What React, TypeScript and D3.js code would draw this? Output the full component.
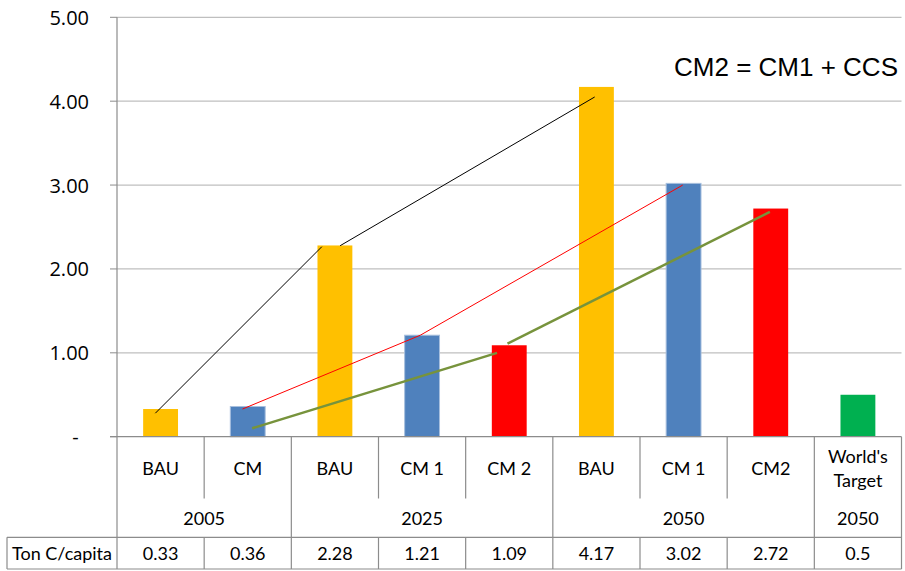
import React from "react";
import * as d3 from "d3";

// ---------- data ----------
const categories: string[][] = [
  ["BAU"], ["CM"], ["BAU"], ["CM 1"], ["CM 2"], ["BAU"], ["CM 1"], ["CM2"], ["World's", "Target"],
];
const values: number[] = [0.33, 0.36, 2.28, 1.21, 1.09, 4.17, 3.02, 2.72, 0.5];
const valueLabels: string[] = ["0.33", "0.36", "2.28", "1.21", "1.09", "4.17", "3.02", "2.72", "0.5"];
const groupLabels: string[] = ["2005", "2025", "2050", "2050"];
const groupSpans: number[] = [2, 3, 3, 1];
const rowTitle = "Ton C/capita";
const yTicks: number[] = [0, 1, 2, 3, 4, 5];
const yTickLabels: string[] = ["-\u00A0\u00A0", "1.00", "2.00", "3.00", "4.00", "5.00"];
const annotation = "CM2 = CM1 + CCS";

// trend segments: [category position, value]
const blackSegments: [number, number][][] = [
  [[-0.06, 0.28], [1.85, 2.265]],
  [[2.06, 2.277], [4.98, 4.05]],
];
const redSegments: [number, number][][] = [
  [[0.94, 0.33], [2.98, 1.21], [5.99, 3.0]],
];
const greenSegments: [number, number][][] = [
  [[1.05, 0.1], [3.86, 1.0]],
  [[3.98, 1.11], [6.99, 2.68]],
];

// ---------- styles ----------
const barColors = ["#FFC000", "#4F81BD", "#FFC000", "#4F81BD", "#FF0000", "#FFC000", "#4F81BD", "#FF0000", "#00B050"];
const barStrokes = ["none", "#A7BFDE", "none", "#A7BFDE", "none", "none", "#A7BFDE", "none", "none"];

export default function App() {
  const W = 905, H = 571;
  const left = 117, right = 901.5, top = 17.3, bottom = 436.7;
  const catRowBottom = 498.5, yearRowBottom = 537.3, dataRowBottom = 569;
  const tableLeft = 7;

  const idx = values.map((_, i) => i);
  const xBand = d3.scaleBand<number>().domain(idx).range([left, right]).paddingInner(0.6).paddingOuter(0.3);
  const xPos = d3.scaleLinear().domain([-0.5, values.length - 0.5]).range([left, right]);
  const y = d3.scaleLinear().domain([0, 5]).range([bottom, top]);
  const line = d3.line<[number, number]>().x(d => xPos(d[0])).y(d => y(d[1]));

  const tableFont = "Lato, 'Open Sans', sans-serif";
  const tableSize = 18;
  const gridColor = "#BFBFBF";
  const borderColor = "#8C8C8C";

  const groupBounds: number[] = [];
  let acc = 0;
  groupSpans.forEach(s => { groupBounds.push(acc); acc += s; });

  return (
    <svg width={W} height={H} style={{ position: "absolute", left: 0, top: 0, background: "#fff" }}>
      {/* gridlines */}
      {yTicks.filter(t => t > 0).map(t => (
        <line key={"g" + t} x1={left} x2={right} y1={y(t)} y2={y(t)} stroke={gridColor} strokeWidth={1.3} />
      ))}
      {/* tick marks */}
      {yTicks.map(t => (
        <line key={"t" + t} x1={left - 7} x2={left} y1={y(t)} y2={y(t)} stroke={borderColor} strokeWidth={1} />
      ))}
      {/* tick labels */}
      {yTicks.map((t, i) => (
        <text key={"l" + t} x={89} y={y(t)} textAnchor="end" dominantBaseline="central"
          fontFamily="'Open Sans', sans-serif" fontSize={20} fill="#000" style={{ whiteSpace: "pre" }}>
          {yTickLabels[i]}
        </text>
      ))}

      {/* bars */}
      {values.map((v, i) => (
        <rect key={"b" + i} x={xBand(i)} y={y(v)} width={xBand.bandwidth()} height={y(0) - y(v)}
          fill={barColors[i]} stroke={barStrokes[i]} strokeWidth={1} />
      ))}

      {/* trend lines */}
      {blackSegments.map((s, i) => (
        <path key={"k" + i} d={line(s) || ""} fill="none" stroke="#000" strokeWidth={1} />
      ))}
      {redSegments.map((s, i) => (
        <path key={"r" + i} d={line(s) || ""} fill="none" stroke="#FF0000" strokeWidth={1} />
      ))}
      {greenSegments.map((s, i) => (
        <path key={"gr" + i} d={line(s) || ""} fill="none" stroke="#77933C" strokeWidth={2.5} />
      ))}

      {/* axis lines */}
      <line x1={left} x2={left} y1={top} y2={dataRowBottom} stroke={borderColor} strokeWidth={1.2} />
      <line x1={left - 7} x2={right} y1={bottom} y2={bottom} stroke={borderColor} strokeWidth={1.2} />

      {/* table borders */}
      <line x1={right} x2={right} y1={bottom} y2={dataRowBottom} stroke={borderColor} strokeWidth={1.2} />
      {idx.slice(1).map(i => {
        const isGroup = groupBounds.includes(i);
        return (
          <line key={"v" + i} x1={xPos(i - 0.5)} x2={xPos(i - 0.5)} y1={bottom}
            y2={isGroup ? dataRowBottom : catRowBottom} stroke={borderColor} strokeWidth={1.2} />
        );
      })}
      {idx.slice(1).filter(i => !groupBounds.includes(i)).map(i => (
        <line key={"dv" + i} x1={xPos(i - 0.5)} x2={xPos(i - 0.5)} y1={yearRowBottom} y2={dataRowBottom}
          stroke={borderColor} strokeWidth={1.2} />
      ))}
      <line x1={tableLeft} x2={right} y1={yearRowBottom} y2={yearRowBottom} stroke={borderColor} strokeWidth={1.2} />
      <line x1={tableLeft} x2={right} y1={dataRowBottom} y2={dataRowBottom} stroke={borderColor} strokeWidth={1.2} />
      <line x1={tableLeft} x2={tableLeft} y1={yearRowBottom} y2={dataRowBottom} stroke={borderColor} strokeWidth={1.2} />

      {/* category labels */}
      {categories.map((lines, i) => (
        <text key={"c" + i} x={xPos(i)} textAnchor="middle" fontFamily={tableFont} fontSize={tableSize} fill="#000">
          {lines.map((ln, j) => (
            <tspan key={j} x={xPos(i)} y={(bottom + catRowBottom) / 2 + (j - (lines.length - 1) / 2) * 24}
              dominantBaseline="central">{ln}</tspan>
          ))}
        </text>
      ))}
      {/* group labels */}
      {groupLabels.map((g, k) => {
        const start = groupBounds[k];
        const center = start + (groupSpans[k] - 1) / 2;
        return (
          <text key={"y" + k} x={xPos(center)} y={(catRowBottom + yearRowBottom) / 2} textAnchor="middle"
            dominantBaseline="central" fontFamily={tableFont} fontSize={tableSize} fill="#000">{g}</text>
        );
      })}
      {/* data row */}
      <text x={(tableLeft + left) / 2} y={(yearRowBottom + dataRowBottom) / 2} textAnchor="middle"
        dominantBaseline="central" fontFamily={tableFont} fontSize={tableSize} fill="#000">{rowTitle}</text>
      {valueLabels.map((v, i) => (
        <text key={"d" + i} x={xPos(i)} y={(yearRowBottom + dataRowBottom) / 2} textAnchor="middle"
          dominantBaseline="central" fontFamily={tableFont} fontSize={tableSize} fill="#000">{v}</text>
      ))}

      {/* annotation */}
      <text x={898} y={76} textAnchor="end" fontFamily="'Liberation Sans', Arial, sans-serif" fontSize={26} fill="#000">
        {annotation}
      </text>
    </svg>
  );
}
